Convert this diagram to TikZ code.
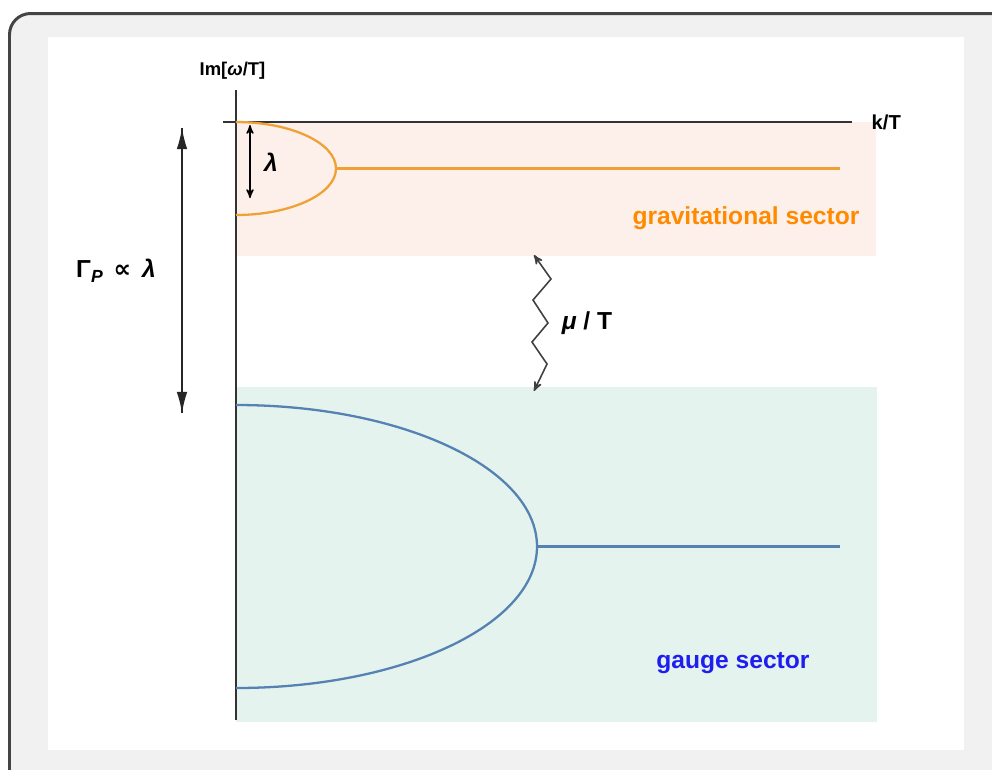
\documentclass[tikz,border=0pt]{standalone}
\usepackage{fontspec}
\setmainfont{Liberation Sans}
\newfontfamily\symfont{DejaVu Sans}
\usepackage{tikz}
\usetikzlibrary{positioning,arrows,arrows.meta}
\definecolor{framegray}{HTML}{F1F1F1}
\definecolor{framedark}{HTML}{444444}
\definecolor{gravfill}{HTML}{FDF0EA}
\definecolor{gaugefill}{HTML}{E4F3EE}
\definecolor{gravline}{HTML}{F0A135}
\definecolor{gravtext}{HTML}{FF8A00}
\definecolor{gaugeline}{HTML}{5581B3}
\definecolor{gaugetext}{HTML}{1E1EF0}
\tikzset{
  >=stealth', x=0.02cm, y=-0.02cm,
  axis/.style={draw=black!80, line width=0.8pt},
  branch/.style={line width=1.3pt},
  label/.style={font=\fontsize{14}{16}\selectfont\bfseries, inner sep=1pt},
  small label/.style={font=\fontsize{10.5}{12}\selectfont\bfseries, inner sep=1pt},
  big tip/.style={-{Latex[length=12pt, width=6pt]}, black!85, line width=0.8pt}
  }
\begin{document}
\begin{tikzpicture}

    \useasboundingbox (0,0) rectangle (992,769);
    \begin{scope}
      \clip (0,0) rectangle (992,769);
      \draw [framedark, fill=framegray, line width=1.7pt, rounded corners=12] (9.5,13.5) rectangle (1030,820);
    \end{scope}
    \fill [white] (48,37) rectangle (964,750);
    \fill [gravfill] (236,122) rectangle (876,256);
    \fill [gaugefill] (236,387) rectangle (877,722);

    \coordinate (o) at (236,122);
    \coordinate (ytop) at (236,90);
    \coordinate (ybot) at (236,720);
    \coordinate (xleft) at (223,122);
    \coordinate (xright) at (852,122);
    \draw [axis] (ytop) -- (ybot);
    \draw [axis] (xleft) -- (xright);
    \node [small label, above=5pt of ytop, xshift=-2pt] (im) {Im[\itshape ω\upshape/T]};
    \node [label, font=\fontsize{11.5}{13}\selectfont\bfseries, right=10pt of xright] (kT) {k/T};

    \coordinate (gtip) at (336,168.5);
    \coordinate (gend) at (840,168.5);
    \draw [branch, gravline] (o) .. controls (291,122) and (336,143) .. (gtip)
      .. controls (336,194) and (291,215) .. (236,215);
    \draw [branch, gravline] (gtip) -- (gend);

    \coordinate (btip) at (537,546.5);
    \coordinate (bend) at (840,546.5);
    \draw [branch, gaugeline] (236,405) .. controls (402,405) and (537,468) .. (btip)
      .. controls (537,625) and (402,688) .. (236,688);
    \draw [branch, gaugeline] (btip) -- (bend);

    \coordinate (lt) at (250,125);
    \coordinate (lb) at (250,198);
    \draw [<->, thick] (lt) -- (lb);
    \node [label, font=\fontsize{14}{16}\selectfont\bfseries\itshape] (lam) at (271,162) {λ};

    \coordinate (gt) at (182,128);
    \coordinate (gb) at (182,413);
    \draw [big tip] (gb) -- (gt);
    \draw [big tip] (gt) -- (gb);
    \node [label] (gam) at (116,271) {Γ\raisebox{-0.35ex}{\fontsize{10}{12}\selectfont\itshape P} \,{\symfont ∝}\, \itshape λ};

    \coordinate (zt) at (534,255);
    \coordinate (zb) at (534,391);
    \draw [<->, black!75, line width=0.9pt] (zt) -- (551,279) -- (533,300) -- (548,323)
      -- (532,342) -- (547,364) -- (zb);
    \node [label] (mu) at (587,323) {\itshape μ\upshape\ / T};

    \node [label, gravtext] (grav) at (746,218) {gravitational sector};
    \node [label, gaugetext] (gauge) at (733,663) {gauge sector};

\end{tikzpicture}
\end{document}
